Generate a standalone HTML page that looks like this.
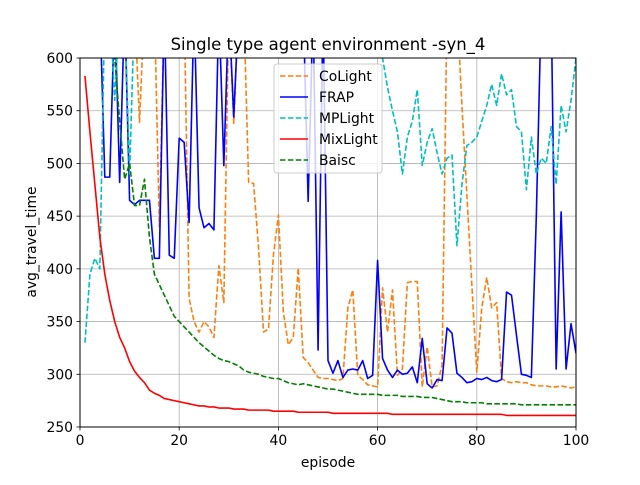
<!DOCTYPE html>
<html><head><meta charset="utf-8"><style>
body{margin:0;background:#fff;}
svg text{font-family:"DejaVu Sans","Liberation Sans",sans-serif;}
</style></head><body>
<svg id="chart" width="640" height="480" viewBox="0 0 640 480" xmlns="http://www.w3.org/2000/svg">
<defs><clipPath id="plotclip"><rect x="80" y="58" width="496" height="369"/></clipPath></defs>
<rect width="640" height="480" fill="#fff"/>
<text x="328" y="50" font-size="16.5" text-anchor="middle">Single type agent environment -syn_4</text>
<g id="grid"></g>
<g id="series" clip-path="url(#plotclip)"></g>
<rect x="80" y="58" width="496" height="369" fill="none" stroke="#000" stroke-width="1"/>
<g id="ticks"></g>
<text x="328" y="467" font-size="13.9" text-anchor="middle">episode</text>
<text transform="translate(36,242) rotate(-90)" font-size="13.9" text-anchor="middle">avg_travel_time</text>
<g id="legend"></g>
</svg>
<script>
const xTicks=[0,20,40,60,80,100];
const yTicks=[250,300,350,400,450,500,550,600];
const seriesNames=["CoLight","FRAP","MPLight","MixLight","Baisc"];
const seriesColors=["#ff7f0e","#0000ff","#00bfbf","#ff0000","#008000"];
const seriesDashed=[true,false,true,false,true];
const colight=[650,650,650,650,650,650,650,650,650,650,650,539,650,650,650,440,650,650,650,650,650,372,350,340,350,345,335,403,368,650,538,650,650,482,481,420,340,343,413,451,359,328,335,401,316,311,304,297,296,296,295,294,296,363,380,299,295,290,289,288,382,340,380,299,305,387,388,388,288,326,288,289,309,650,650,650,555,470,385,302,363,392,363,368,296,293,292,293,292,292,290,289,289,289,288,288,289,288,287,288];
const frap=[650,650,650,650,487,487,650,482,650,465,461,465,465,465,410,410,650,413,410,524,520,444,650,458,439,443,437,650,498,650,544,650,650,650,650,650,650,650,650,650,650,650,650,650,650,464,650,323,650,313,301,313,297,304,305,304,313,296,299,408,315,304,297,304,300,301,307,292,334,291,287,295,294,344,339,301,297,292,293,296,295,297,294,293,295,378,375,337,300,299,297,450,650,650,650,305,454,305,348,320];
const mplight=[330,395,410,400,650,650,560,650,650,490,650,650,650,650,650,650,650,650,650,650,650,650,650,650,650,650,650,650,650,650,650,650,650,650,650,650,650,650,650,650,650,650,650,650,650,650,650,650,650,650,650,650,650,650,650,650,650,650,650,650,600,572,550,530,490,525,540,570,498,520,533,510,490,505,508,422,480,517,520,525,540,555,575,555,585,565,570,535,530,475,525,490,505,500,535,480,555,530,560,600];
const mixlight=[583,530,480,430,395,370,350,335,325,312,303,297,292,285,282,280,277,276,275,274,273,272,271,270,270,269,269,268,268,268,267,267,267,266,266,266,266,266,265,265,265,265,265,264,264,264,264,264,264,264,263,263,263,263,263,263,263,263,263,263,263,263,262,262,262,262,262,262,262,262,262,262,262,262,262,262,262,262,262,262,262,262,262,262,262,261,261,261,261,261,261,261,261,261,261,261,261,261,261,261];
const baisc=[700,700,700,700,700,700,600,540,485,500,460,460,485,430,395,385,375,365,355,350,345,340,335,330,326,322,318,315,313,312,310,308,304,302,301,300,298,297,296,296,294,292,291,290,291,290,289,288,287,286,286,285,284,283,282,281,281,281,281,281,280,280,280,280,279,279,279,279,278,278,278,277,276,275,274,274,274,273,273,273,273,272,272,272,272,272,272,272,271,271,271,271,271,271,271,271,271,271,271,271];
const allSeries=[colight,frap,mplight,mixlight,baisc];

const NS="http://www.w3.org/2000/svg";
const X0=80,X1=576,Y0=427,Y1=58,xmin=0,xmax=100,ymin=250,ymax=600;
function sx(v){return X0+(v-xmin)/(xmax-xmin)*(X1-X0);}
function sy(v){return Y0-(v-ymin)/(ymax-ymin)*(Y0-Y1);}
function mk(tag,attrs,parent){const e=document.createElementNS(NS,tag);for(const k in attrs)e.setAttribute(k,attrs[k]);parent.appendChild(e);return e;}
const grid=document.getElementById('grid'),ticks=document.getElementById('ticks'),ser=document.getElementById('series'),leg=document.getElementById('legend');
xTicks.forEach(t=>{
  const g=mk('line',{x1:sx(t),x2:sx(t),y1:Y1,y2:Y0,stroke:'#b0b0b0','stroke-width':0.8},grid);
  
  
  const tk=mk('line',{x1:sx(t),x2:sx(t),y1:Y0,y2:Y0+3.5,stroke:'#000','stroke-width':0.8},ticks);
  
  
  const tl=mk('text',{x:sx(t),y:Y0+18,'font-size':13.9,'text-anchor':'middle'},ticks);tl.textContent=t;
  
  
});
yTicks.forEach(t=>{
  const g=mk('line',{x1:X0,x2:X1,y1:sy(t),y2:sy(t),stroke:'#b0b0b0','stroke-width':0.8},grid);
  
  
  const tk=mk('line',{x1:X0-3.5,x2:X0,y1:sy(t),y2:sy(t),stroke:'#000','stroke-width':0.8},ticks);
  
  
  const tl=mk('text',{x:X0-7,y:sy(t)+5,'font-size':13.9,'text-anchor':'end'},ticks);tl.textContent=t;
  
  
});
allSeries.forEach((arr,i)=>{
  const pts=arr.map((v,j)=>sx(j+1).toFixed(2)+','+sy(v).toFixed(2)).join(' ');
  const p=mk('polyline',{points:pts,fill:'none',stroke:seriesColors[i],'stroke-width':1.6,'stroke-linejoin':'round'},ser);
  if(seriesDashed[i])p.setAttribute('stroke-dasharray','5.5,2.4');
  
  
});
const lb=mk('rect',{x:274,y:64,width:108,height:109,rx:3,fill:'#fff','fill-opacity':0.8,stroke:'#ccc','stroke-width':1},leg);


seriesNames.forEach((n,i)=>{
  const y=76+i*21;
  const l=mk('line',{x1:280,x2:308,y1:y,y2:y,stroke:seriesColors[i],'stroke-width':1.6},leg);
  if(seriesDashed[i])l.setAttribute('stroke-dasharray','5.5,2.4');
  
  
  const t=mk('text',{x:319,y:y+5,'font-size':13.9},leg);t.textContent=n;
  
  
});
</script>
</body></html>
